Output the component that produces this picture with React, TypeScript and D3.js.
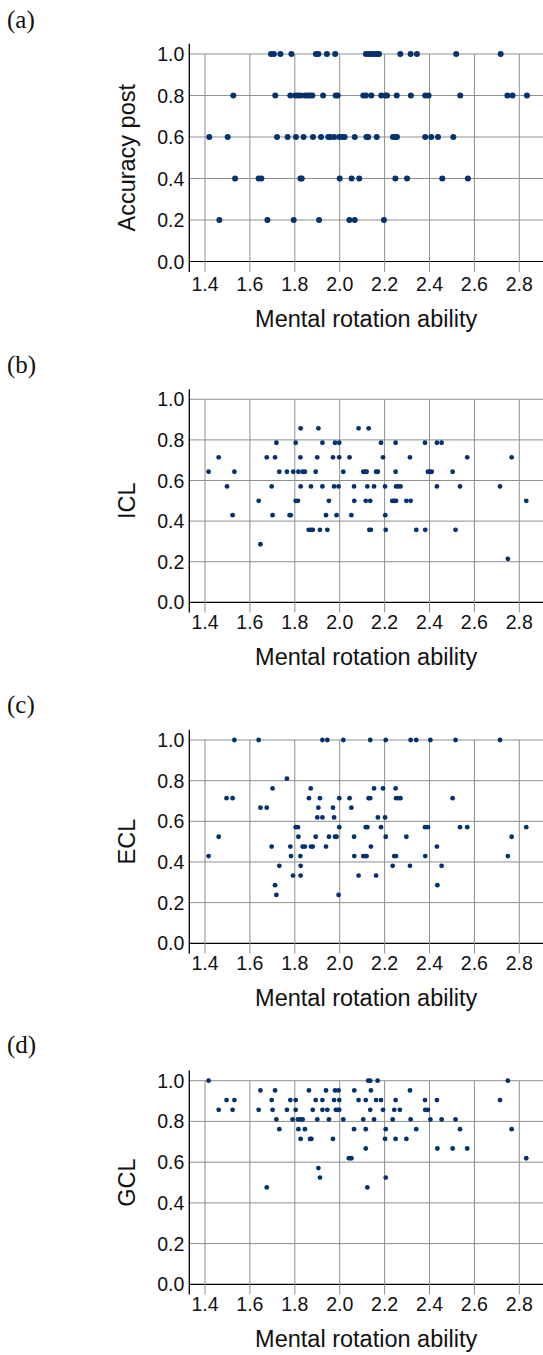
import React from "react";
import * as d3 from "d3";

// ---------- data ----------
const xTicks = [1.4, 1.6, 1.8, 2.0, 2.2, 2.4, 2.6, 2.8];
const yTicks = [0, 0.2, 0.4, 0.6, 0.8, 1.0];
const panelLabels = ["(a)", "(b)", "(c)", "(d)"];
const yTitles = ["Accuracy post", "ICL", "ECL", "GCL"];
const xTitle = "Mental rotation ability";

const accuracyPost: [number, number][] = [
  [1.694, 1], [1.707, 1], [1.736, 1], [1.785, 1], [1.894, 1], [1.905, 1], [1.943, 1], [1.98, 1],
  [2.117, 1], [2.129, 1], [2.141, 1], [2.153, 1], [2.165, 1], [2.175, 1], [2.27, 1], [2.316, 1],
  [2.344, 1], [2.519, 1], [2.717, 1],
  [1.526, 0.8], [1.713, 0.8], [1.78, 0.8], [1.802, 0.8], [1.814, 0.8], [1.826, 0.8], [1.845, 0.8],
  [1.857, 0.8], [1.869, 0.8], [1.878, 0.8], [1.926, 0.8], [1.982, 0.8], [1.991, 0.8], [2.105, 0.8],
  [2.117, 0.8], [2.141, 0.8], [2.185, 0.8], [2.203, 0.8], [2.211, 0.8], [2.254, 0.8], [2.317, 0.8],
  [2.381, 0.8], [2.396, 0.8], [2.537, 0.8], [2.747, 0.8], [2.77, 0.8], [2.834, 0.8],
  [1.419, 0.6], [1.501, 0.6], [1.721, 0.6], [1.768, 0.6], [1.805, 0.6], [1.839, 0.6], [1.881, 0.6],
  [1.917, 0.6], [1.949, 0.6], [1.958, 0.6], [1.975, 0.6], [1.998, 0.6], [2.01, 0.6], [2.022, 0.6],
  [2.067, 0.6], [2.119, 0.6], [2.127, 0.6], [2.165, 0.6], [2.237, 0.6], [2.248, 0.6], [2.255, 0.6],
  [2.381, 0.6], [2.408, 0.6], [2.438, 0.6], [2.506, 0.6],
  [1.534, 0.4], [1.639, 0.4], [1.651, 0.4], [1.825, 0.4], [1.831, 0.4], [2.0, 0.4], [2.053, 0.4],
  [2.087, 0.4], [2.248, 0.4], [2.3, 0.4], [2.457, 0.4], [2.571, 0.4],
  [1.464, 0.2], [1.678, 0.2], [1.795, 0.2], [1.908, 0.2], [2.043, 0.2], [2.067, 0.2], [2.197, 0.2],
];

const icl: [number, number][] = [
  [1.416, 0.643], [1.461, 0.714], [1.498, 0.571], [1.523, 0.429], [1.531, 0.643], [1.639, 0.5],
  [1.647, 0.286], [1.675, 0.714], [1.697, 0.571], [1.701, 0.429], [1.712, 0.714], [1.718, 0.786],
  [1.731, 0.643], [1.765, 0.643], [1.777, 0.429], [1.782, 0.429], [1.793, 0.643], [1.804, 0.786],
  [1.804, 0.5], [1.814, 0.5], [1.816, 0.643], [1.825, 0.714], [1.826, 0.857], [1.826, 0.571],
  [1.835, 0.643], [1.845, 0.643], [1.862, 0.357], [1.872, 0.357], [1.88, 0.357], [1.872, 0.571],
  [1.893, 0.643], [1.9, 0.714], [1.905, 0.857], [1.912, 0.357], [1.923, 0.786], [1.923, 0.571],
  [1.939, 0.429], [1.945, 0.357], [1.952, 0.5], [1.97, 0.714], [1.975, 0.571], [1.979, 0.786],
  [1.986, 0.429], [1.995, 0.571], [1.998, 0.786], [1.998, 0.714], [2.016, 0.643], [2.044, 0.714],
  [2.052, 0.429], [2.064, 0.571], [2.065, 0.5], [2.084, 0.857], [2.105, 0.643], [2.113, 0.643],
  [2.12, 0.643], [2.116, 0.5], [2.123, 0.571], [2.129, 0.857], [2.132, 0.357], [2.136, 0.5],
  [2.139, 0.357], [2.153, 0.571], [2.162, 0.643], [2.17, 0.643], [2.184, 0.786], [2.193, 0.714],
  [2.202, 0.571], [2.203, 0.429], [2.205, 0.357], [2.234, 0.5], [2.243, 0.5], [2.251, 0.5],
  [2.249, 0.643], [2.249, 0.786], [2.251, 0.571], [2.261, 0.571], [2.271, 0.571], [2.297, 0.5],
  [2.313, 0.714], [2.316, 0.5], [2.341, 0.357], [2.38, 0.786], [2.381, 0.357], [2.393, 0.643],
  [2.402, 0.643], [2.41, 0.643], [2.433, 0.571], [2.433, 0.786], [2.454, 0.786], [2.503, 0.643],
  [2.516, 0.357], [2.536, 0.571], [2.568, 0.714], [2.714, 0.571], [2.749, 0.214], [2.766, 0.714],
  [2.831, 0.5],
];

const ecl: [number, number][] = [
  [1.416, 0.429], [1.461, 0.524], [1.496, 0.714], [1.523, 0.714], [1.531, 1.0], [1.639, 1.0],
  [1.647, 0.667], [1.675, 0.667], [1.697, 0.476], [1.701, 0.762], [1.712, 0.286], [1.718, 0.238],
  [1.731, 0.381], [1.765, 0.81], [1.78, 0.476], [1.783, 0.429], [1.792, 0.333], [1.804, 0.571],
  [1.814, 0.571], [1.816, 0.524], [1.825, 0.429], [1.826, 0.381], [1.826, 0.333], [1.835, 0.476],
  [1.845, 0.476], [1.863, 0.714], [1.871, 0.762], [1.872, 0.476], [1.88, 0.476], [1.893, 0.524],
  [1.9, 0.619], [1.905, 0.667], [1.912, 0.714], [1.923, 0.619], [1.923, 1.0], [1.939, 0.476],
  [1.945, 1.0], [1.952, 0.524], [1.97, 0.667], [1.975, 0.619], [1.979, 0.524], [1.986, 0.524],
  [1.995, 0.238], [1.998, 0.571], [1.998, 0.714], [2.016, 1.0], [2.044, 0.714], [2.052, 0.667],
  [2.064, 0.524], [2.065, 0.429], [2.084, 0.333], [2.105, 0.429], [2.113, 0.429], [2.12, 0.429],
  [2.116, 0.571], [2.123, 0.571], [2.129, 0.714], [2.136, 0.714], [2.136, 1.0], [2.139, 0.476],
  [2.153, 0.762], [2.162, 0.333], [2.17, 0.619], [2.184, 0.571], [2.193, 0.762], [2.202, 0.619],
  [2.205, 0.524], [2.205, 1.0], [2.236, 0.381], [2.243, 0.429], [2.251, 0.429], [2.249, 0.762],
  [2.251, 0.714], [2.261, 0.714], [2.271, 0.714], [2.297, 0.524], [2.313, 0.381], [2.316, 1.0],
  [2.341, 1.0], [2.38, 0.571], [2.393, 0.571], [2.381, 0.429], [2.404, 1.0], [2.433, 0.476],
  [2.435, 0.286], [2.454, 0.381], [2.503, 0.714], [2.516, 1.0], [2.536, 0.571], [2.568, 0.571],
  [2.714, 1.0], [2.749, 0.429], [2.766, 0.524], [2.831, 0.571],
];

const gcl: [number, number][] = [
  [1.416, 1.0], [1.461, 0.857], [1.496, 0.905], [1.523, 0.857], [1.531, 0.905], [1.639, 0.857],
  [1.647, 0.952], [1.675, 0.476], [1.697, 0.905], [1.701, 0.857], [1.712, 0.952], [1.718, 0.81],
  [1.731, 0.762], [1.765, 0.857], [1.78, 0.905], [1.79, 0.81], [1.804, 0.905], [1.804, 0.857],
  [1.814, 0.81], [1.816, 0.762], [1.825, 0.81], [1.826, 0.714], [1.835, 0.81], [1.845, 0.762],
  [1.863, 0.952], [1.868, 0.714], [1.874, 0.714], [1.88, 0.857], [1.893, 0.905], [1.9, 0.81],
  [1.905, 0.571], [1.912, 0.524], [1.923, 0.905], [1.923, 0.857], [1.939, 0.952], [1.945, 0.857],
  [1.952, 0.81], [1.97, 0.714], [1.975, 0.905], [1.979, 0.952], [1.983, 0.857], [1.991, 0.857],
  [1.995, 0.952], [1.998, 0.905], [1.998, 0.857], [2.016, 0.81], [2.041, 0.619], [2.052, 0.619],
  [2.064, 0.762], [2.065, 0.952], [2.084, 0.905], [2.105, 0.81], [2.116, 0.905], [2.116, 0.762],
  [2.116, 0.667], [2.123, 0.476], [2.127, 1.0], [2.136, 1.0], [2.136, 0.857], [2.139, 0.952],
  [2.153, 0.81], [2.162, 0.905], [2.169, 1.0], [2.184, 0.905], [2.193, 0.857], [2.202, 0.714],
  [2.205, 0.762], [2.205, 0.524], [2.236, 0.81], [2.243, 0.857], [2.249, 0.905], [2.249, 0.714],
  [2.268, 0.857], [2.297, 0.714], [2.313, 0.952], [2.316, 0.81], [2.341, 0.762], [2.38, 0.905],
  [2.381, 0.857], [2.393, 0.857], [2.404, 0.81], [2.433, 0.905], [2.435, 0.667], [2.454, 0.81],
  [2.503, 0.667], [2.516, 0.81], [2.536, 0.762], [2.568, 0.667], [2.714, 0.905], [2.749, 1.0],
  [2.766, 0.762], [2.831, 0.619],
];

const datasets = [accuracyPost, icl, ecl, gcl];

// ---------- layout ----------
const W = 543;
const H = 1355;
const axisX = 189.3;
const rightEdge = 543;
const panelGeom = [
  { y1: 54, y0: 261.5, tickDy: 29, titleDy: 65.5, labelY: 28, r: 3.0 },
  { y1: 399.3, y0: 602.3, tickDy: 26.5, titleDy: 63, labelY: 373, r: 2.4 },
  { y1: 740, y0: 943.3, tickDy: 26.5, titleDy: 63, labelY: 713, r: 2.4 },
  { y1: 1080.7, y0: 1284.3, tickDy: 26.5, titleDy: 63, labelY: 1053, r: 2.4 },
];

const x = d3.scaleLinear().domain([1.4, 2.8]).range([205, 519.3]);
const fmt = d3.format(".1f");
const dotColor = "#05316c";
const gridColor = "#8f8f8f";
const sans = "'Liberation Sans', Arial, Helvetica, sans-serif";

function Panel({ idx }: { idx: number }) {
  const g = panelGeom[idx];
  const y = d3.scaleLinear().domain([0, 1]).range([g.y0, g.y1]);
  const data = datasets[idx];
  const plotCenter = (axisX + rightEdge) / 2;
  return (
    <g>
      <text x={7} y={g.labelY} fontFamily="'Liberation Serif', 'DejaVu Serif', serif" fontSize={25} fill="#111">
        {panelLabels[idx]}
      </text>
      {yTicks.map((t) => (
        <line key={"h" + t} x1={axisX} x2={rightEdge} y1={y(t)} y2={y(t)}
          stroke={t === 0 ? "#000" : gridColor} strokeWidth={t === 0 ? 1.2 : 1} />
      ))}
      {xTicks.map((t) => (
        <line key={"v" + t} x1={x(t)} x2={x(t)} y1={y(1)} y2={y(-0.05)} stroke={gridColor} strokeWidth={1} />
      ))}
      <line x1={axisX} x2={axisX} y1={y(1.05)} y2={y(-0.05)} stroke="#000" strokeWidth={1.3} />
      {yTicks.map((t) => (
        <text key={"yl" + t} x={axisX - 5} y={y(t)} textAnchor="end" dominantBaseline="central"
          fontFamily={sans} fontSize={19.5} fill="#111">{fmt(t)}</text>
      ))}
      {xTicks.map((t) => (
        <text key={"xl" + t} x={x(t)} y={g.y0 + g.tickDy} textAnchor="middle"
          fontFamily={sans} fontSize={19.5} fill="#111">{fmt(t)}</text>
      ))}
      <text x={plotCenter} y={g.y0 + g.titleDy} textAnchor="middle" fontFamily={sans} fontSize={23.5} fill="#111">
        {xTitle}
      </text>
      <text transform={`translate(135,${(y(1.05) + y(-0.05)) / 2}) rotate(-90)`} textAnchor="middle"
        fontFamily={sans} fontSize={23.5} fill="#111">
        {yTitles[idx]}
      </text>
      {data.map((d, i) => (
        <circle key={i} cx={x(d[0])} cy={y(d[1])} r={g.r} fill={dotColor} />
      ))}
    </g>
  );
}

export default function App() {
  return (
    <svg width={W} height={H} viewBox={`0 0 ${W} ${H}`}
      style={{ position: "absolute", left: 0, top: 0, background: "#fff" }}>
      <rect width={W} height={H} fill="#fff" />
      {[0, 1, 2, 3].map((i) => (
        <Panel key={i} idx={i} />
      ))}
    </svg>
  );
}
